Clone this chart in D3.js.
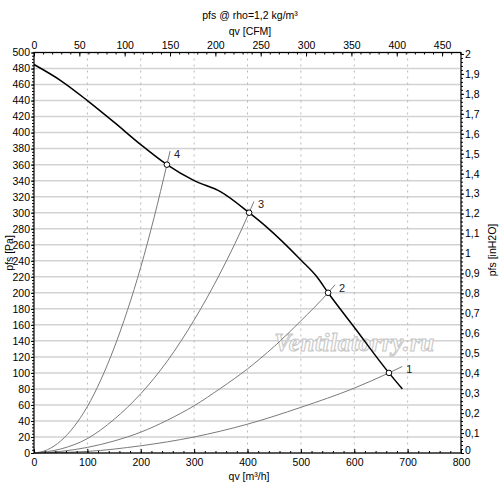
<!DOCTYPE html>
<html>
<head>
<meta charset="utf-8">
<script src="https://cdn.jsdelivr.net/npm/d3@7"></script>
<style>
  body { margin: 0; background: #fff; }
  svg { display: block; font-family: "Liberation Sans", Arial, sans-serif; }
</style>
</head>
<body>
<svg width="500" height="490"></svg>
<script>
// fan curve, qv [m3/h] vs pfs [Pa]
const fanCurve = [
  [0, 485], [50, 465], [100, 440], [150, 413], [200, 385], [249, 360],
  [300, 340], [350, 326], [403, 300], [436, 282], [500, 241], [530, 220],
  [551, 200], [600, 157], [665, 100], [690, 80]
]

// system curves 1..4
const sys1 = [[0, 0], [100, 2], [200, 9], [300, 20], [400, 36], [500, 57], [600, 81], [665, 100], [690, 108]]
const sys2 = [[0, 0], [50, 2], [100, 7], [150, 15], [200, 26], [250, 41], [300, 59], [350, 81], [400, 105], [450, 133], [500, 165], [551, 200], [564, 210]]
const sys3 = [[0, 0], [50, 5], [100, 18], [150, 42], [200, 74], [250, 115], [300, 166], [350, 226], [403, 300], [412, 314]]
const sys4 = [[0, 0], [25, 4], [50, 15], [75, 33], [100, 58], [125, 91], [150, 131], [175, 178], [200, 232], [225, 294], [249, 360], [255, 377]]
const systemCurves = [sys1, sys2, sys3, sys4]
const curveLabels = ['1', '2', '3', '4']

// operating points (fan curve x system curve)
const opQ = [665, 551, 403, 249]
const opP = [100, 200, 300, 360]

// axis ticks
const qvTicks = [0, 100, 200, 300, 400, 500, 600, 700, 800]
const cfmTicks = [0, 50, 100, 150, 200, 250, 300, 350, 400, 450]
const paTicks = d3.range(0, 501, 20)
const inTicks = d3.range(0, 21).map(d => d / 10)

const M3H_PER_CFM = 1.699
const PA_PER_INH2O = 249.1

const svg = d3.select('svg')
const mLeft = 34, mRight = 461, mTop = 52.5, mBottom = 453

const x = d3.scaleLinear().domain([0, 800]).range([mLeft, mRight])
const y = d3.scaleLinear().domain([0, 500]).range([mBottom, mTop])
const xCfm = d3.scaleLinear().domain([0, 800 / M3H_PER_CFM]).range([mLeft, mRight])
const yIn = d3.scaleLinear().domain([0, 500 / PA_PER_INH2O]).range([mBottom, mTop])

const comma = d => String(+d.toFixed(2)).replace('.', ',')

// grid
svg.append('g')
  .selectAll('line')
  .data(paTicks)
  .join('line')
  .attr('x1', mLeft).attr('x2', mRight)
  .attr('y1', d => y(d)).attr('y2', d => y(d))
  .attr('stroke', '#d2d2d2')
  .attr('stroke-width', 1.5)

svg.append('g')
  .selectAll('line')
  .data(qvTicks.slice(1))
  .join('line')
  .attr('x1', d => x(d)).attr('x2', d => x(d))
  .attr('y1', mTop).attr('y2', mBottom)
  .attr('stroke', '#b8b8b8')
  .attr('stroke-dasharray', '2,4')

// watermark
svg.append('text')
  .attr('x', x(600))
  .attr('y', y(127))
  .attr('text-anchor', 'middle')
  .attr('font-family', '"Liberation Serif", serif')
  .attr('font-style', 'italic')
  .attr('font-weight', 'bold')
  .attr('font-size', 25)
  .attr('textLength', 160)
  .attr('fill', '#fcfcfc')
  .attr('stroke', '#c6c6c6')
  .attr('stroke-width', 1)
  .text('Ventilatorry.ru')

// system curves
const line = d3.line()
  .x(d => x(d[0]))
  .y(d => y(d[1]))
  .curve(d3.curveMonotoneX)

svg.append('g')
  .selectAll('path')
  .data(systemCurves)
  .join('path')
  .attr('d', line)
  .attr('fill', 'none')
  .attr('stroke', '#7a7a7a')
  .attr('stroke-width', 1)

svg.append('g')
  .attr('font-size', 11)
  .selectAll('text')
  .data(systemCurves)
  .join('text')
  .attr('x', d => x(d[d.length - 1][0]) + 4)
  .attr('y', d => y(d[d.length - 1][1]) + 7)
  .attr('fill', '#222')
  .text((d, i) => curveLabels[i])

// fan curve
svg.append('path')
  .datum(fanCurve)
  .attr('d', line)
  .attr('fill', 'none')
  .attr('stroke', '#000')
  .attr('stroke-width', 1.5)
  .attr('stroke-linejoin', 'round')

svg.append('g')
  .selectAll('circle')
  .data(opQ)
  .join('circle')
  .attr('cx', d => x(d))
  .attr('cy', (d, i) => y(opP[i]))
  .attr('r', 2.8)
  .attr('fill', '#fff')
  .attr('stroke', '#000')
  .attr('stroke-width', 1)

// axes
const styleAxis = g => {
  g.select('.domain').remove()
  g.selectAll('text').attr('font-size', 10.5).attr('fill', '#000')
  g.selectAll('line').attr('stroke', '#000')
}

// tick marks only, no labels
const marks = g => {
  g.select('.domain').remove()
  g.selectAll('text').remove()
  g.selectAll('line').attr('stroke', '#000')
}

const minor = (axis, scale, step, translate) => {
  const [a, b] = scale.domain()
  svg.append('g')
    .attr('transform', translate)
    .call(axis(scale).tickValues(d3.range(a, b + 1e-9, step)).tickSize(2))
    .call(marks)
}

minor(d3.axisTop, x, 20, `translate(0,${mBottom})`)
minor(d3.axisBottom, xCfm, 10, `translate(0,${mTop})`)
minor(d3.axisLeft, y, 4, `translate(${mLeft},0)`)
minor(d3.axisRight, yIn, 0.02, `translate(${mRight},0)`)

svg.append('g')
  .attr('transform', `translate(0,${mBottom})`)
  .call(d3.axisBottom(x).tickValues(qvTicks).tickSize(0).tickPadding(6).tickFormat(d3.format('d')))
  .call(styleAxis)
svg.append('g')
  .attr('transform', `translate(0,${mBottom})`)
  .call(d3.axisTop(x).tickValues(qvTicks).tickSize(4))
  .call(marks)

svg.append('g')
  .attr('transform', `translate(0,${mTop})`)
  .call(d3.axisTop(xCfm).tickValues(cfmTicks).tickSize(0).tickPadding(4).tickFormat(d3.format('d')))
  .call(styleAxis)
svg.append('g')
  .attr('transform', `translate(0,${mTop})`)
  .call(d3.axisBottom(xCfm).tickValues(cfmTicks).tickSize(4))
  .call(marks)

svg.append('g')
  .attr('transform', `translate(${mLeft},0)`)
  .call(d3.axisLeft(y).tickValues(paTicks).tickSize(3).tickPadding(1).tickFormat(d3.format('d')))
  .call(styleAxis)

svg.append('g')
  .attr('transform', `translate(${mRight},0)`)
  .call(d3.axisRight(yIn).tickValues(inTicks).tickSize(3).tickPadding(1).tickFormat(comma))
  .call(styleAxis)
  // lift the corner "0" a little so it clears the "800" below
  .call(g => g.selectAll('.tick text').filter(d => d === 0).attr('y', -3))

// frame
svg.append('rect')
  .attr('x', mLeft).attr('y', mTop)
  .attr('width', mRight - mLeft).attr('height', mBottom - mTop)
  .attr('fill', 'none')
  .attr('stroke', '#000')
  .attr('stroke-width', 1.2)

// titles
const title = (txt, tx, ty, rot) => svg.append('text')
  .attr('transform', `translate(${tx},${ty})` + (rot ? ` rotate(${rot})` : ''))
  .attr('text-anchor', 'middle')
  .attr('dominant-baseline', 'middle')
  .attr('font-size', 10.5)
  .text(txt)

title('pfs @ rho=1,2 kg/m³', 250, 16)
title('qv [CFM]', 250, 32)
title('qv [m³/h]', 249, 477)
title('pfs [Pa]', 10, 253, -90)
title('pfs [inH2O]', 493, 250, -90)
</script>
</body>
</html>
